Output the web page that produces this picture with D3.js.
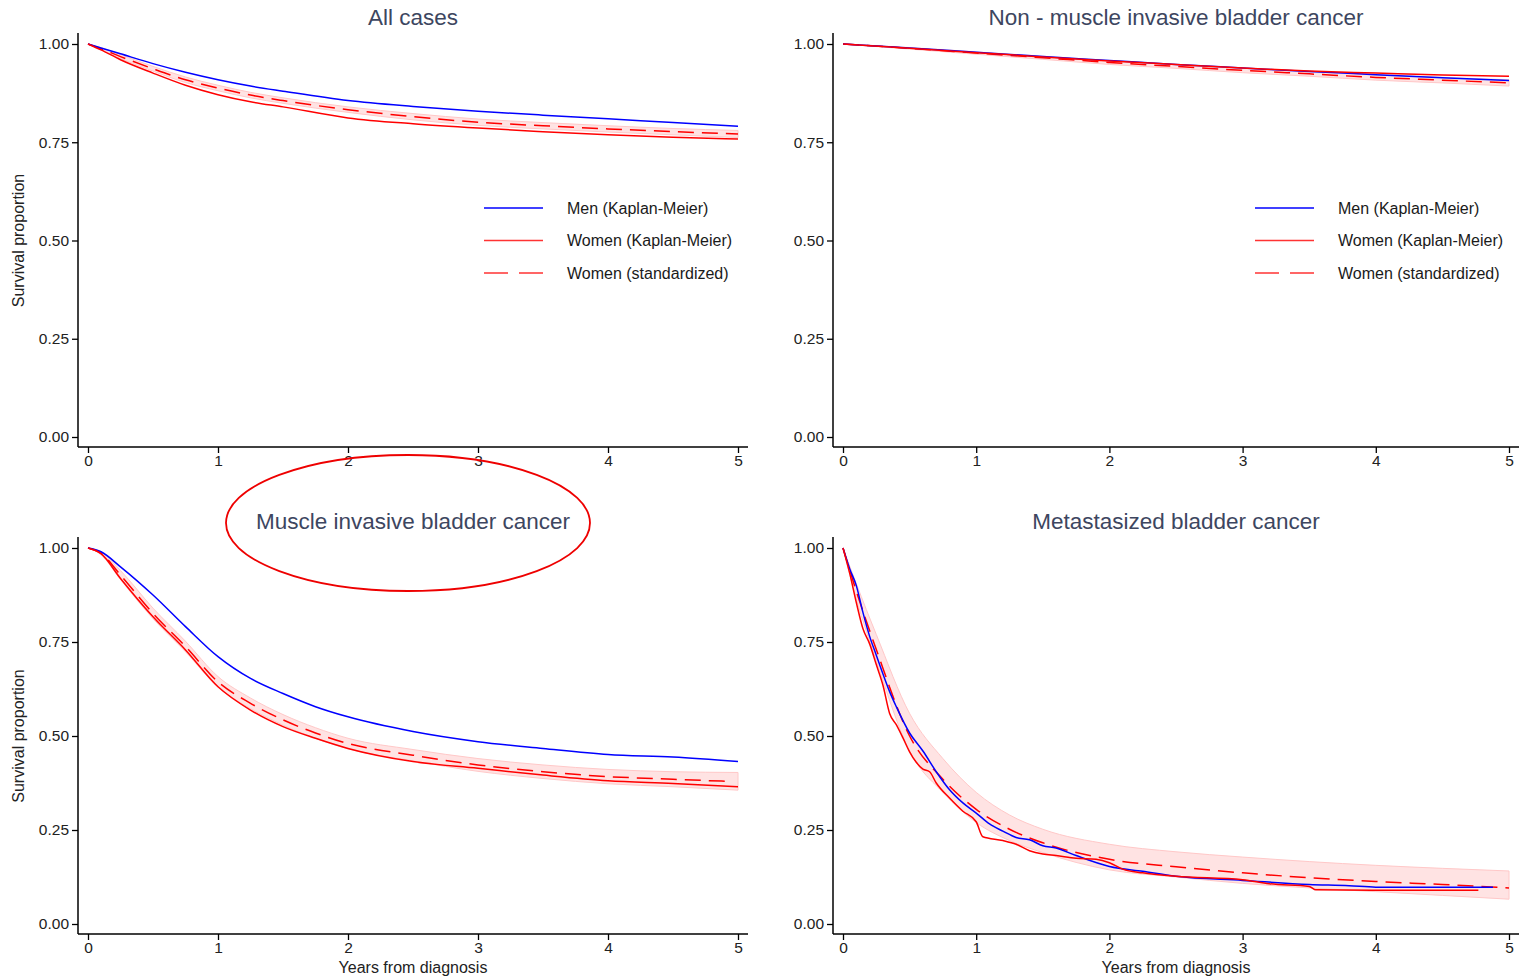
<!DOCTYPE html>
<html><head><meta charset="utf-8">
<script src="https://cdn.jsdelivr.net/npm/d3@7"></script>
<style>
html,body{margin:0;padding:0;background:#fff;}
svg text{font-family:"Liberation Sans",Arial,sans-serif;}
</style></head>
<body>
<svg id="chart" width="1521" height="980"></svg>
<script>
// ---------- DATA ----------
const xTicks = [0, 1, 2, 3, 4, 5];
const yTicks = [0, 0.25, 0.5, 0.75, 1];
const yTickLabels = ["0.00", "0.25", "0.50", "0.75", "1.00"];
const legendLabels = ["Men (Kaplan-Meier)", "Women (Kaplan-Meier)", "Women (standardized)"];
const panelTitles = ["All cases", "Non - muscle invasive bladder cancer", "Muscle invasive bladder cancer", "Metastasized bladder cancer"];

// All cases
const allTime     = [0, 0.1, 0.25, 0.5, 0.75, 1, 1.25, 1.5, 2, 2.5, 3, 3.5, 4, 4.5, 5];
const allMen      = [1, 0.990, 0.975, 0.950, 0.928, 0.909, 0.893, 0.880, 0.856, 0.841, 0.829, 0.819, 0.810, 0.800, 0.791];
const allWomenKM  = [1, 0.985, 0.960, 0.926, 0.895, 0.871, 0.853, 0.840, 0.812, 0.797, 0.786, 0.777, 0.769, 0.763, 0.758];
const allWomenStd = [1, 0.988, 0.968, 0.937, 0.909, 0.888, 0.870, 0.856, 0.833, 0.815, 0.801, 0.792, 0.784, 0.777, 0.771];
const allBandHi   = [1, 0.991, 0.973, 0.943, 0.916, 0.895, 0.877, 0.863, 0.840, 0.823, 0.809, 0.800, 0.792, 0.785, 0.780];
const allBandLo   = [1, 0.985, 0.963, 0.931, 0.902, 0.881, 0.863, 0.849, 0.826, 0.807, 0.793, 0.784, 0.776, 0.769, 0.762];

// Non - muscle invasive
const nmiTime     = [0, 0.5, 1, 1.5, 2, 2.5, 3, 3.5, 4, 4.5, 5];
const nmiMen      = [1, 0.990, 0.979, 0.968, 0.958, 0.948, 0.939, 0.930, 0.922, 0.914, 0.907];
const nmiWomenKM  = [1, 0.989, 0.978, 0.967, 0.957, 0.948, 0.939, 0.931, 0.926, 0.921, 0.918];
const nmiWomenStd = [1, 0.989, 0.977, 0.965, 0.953, 0.943, 0.933, 0.924, 0.915, 0.908, 0.901];
const nmiBandHi   = [1, 0.991, 0.980, 0.969, 0.958, 0.948, 0.939, 0.930, 0.922, 0.915, 0.909];
const nmiBandLo   = [1, 0.987, 0.974, 0.961, 0.948, 0.938, 0.927, 0.918, 0.908, 0.901, 0.893];

// Muscle invasive
const miTime      = [0, 0.1, 0.25, 0.5, 0.75, 1, 1.25, 1.5, 1.75, 2, 2.5, 3, 3.5, 4, 4.5, 5];
const miMen       = [1, 0.990, 0.950, 0.875, 0.791, 0.711, 0.653, 0.613, 0.578, 0.551, 0.512, 0.485, 0.467, 0.451, 0.444, 0.432];
const miWomenKM   = [1, 0.985, 0.919, 0.817, 0.729, 0.631, 0.569, 0.525, 0.494, 0.467, 0.432, 0.414, 0.396, 0.381, 0.374, 0.365];
const miStdTime   = [0, 0.1, 0.25, 0.5, 0.75, 1, 1.25, 1.5, 1.75, 2, 2.5, 3, 3.5, 4, 4.5, 4.95];
const miWomenStd  = [1, 0.986, 0.928, 0.826, 0.738, 0.644, 0.587, 0.543, 0.508, 0.480, 0.449, 0.423, 0.405, 0.392, 0.385, 0.379];
const miBandHi    = [1, 0.990, 0.940, 0.840, 0.752, 0.658, 0.601, 0.557, 0.522, 0.494, 0.464, 0.440, 0.423, 0.411, 0.405, 0.403];
const miBandLo    = [1, 0.982, 0.916, 0.812, 0.724, 0.630, 0.573, 0.529, 0.494, 0.466, 0.434, 0.406, 0.387, 0.373, 0.365, 0.356];

// Metastasized
const metMenTime  = [0, 0.05, 0.1, 0.15, 0.2, 0.25, 0.3, 0.35, 0.4, 0.5, 0.6, 0.7, 0.8, 0.9, 1.0, 1.1, 1.2, 1.3, 1.4, 1.5, 1.6, 1.75, 2, 2.25, 2.5, 3, 3.5, 3.8, 4, 4.5, 4.88];
const metMen      = [1, 0.945, 0.900, 0.828, 0.765, 0.715, 0.665, 0.618, 0.578, 0.508, 0.460, 0.405, 0.357, 0.322, 0.295, 0.266, 0.247, 0.230, 0.224, 0.208, 0.202, 0.182, 0.153, 0.140, 0.127, 0.116, 0.105, 0.102, 0.098, 0.098, 0.098];
const metWomTime  = [0, 0.05, 0.1, 0.15, 0.2, 0.25, 0.3, 0.35, 0.4, 0.45, 0.5, 0.55, 0.6, 0.65, 0.7, 0.8, 0.9, 1.0, 1.05, 1.2, 1.3, 1.4, 1.5, 1.6, 1.75, 1.9, 2.0, 2.1, 2.25, 2.5, 3.0, 3.2, 3.5, 3.55, 4.0, 4.5, 4.77];
const metWomenKM  = [1, 0.933, 0.855, 0.785, 0.745, 0.690, 0.635, 0.560, 0.530, 0.495, 0.458, 0.430, 0.412, 0.405, 0.375, 0.335, 0.300, 0.272, 0.232, 0.222, 0.212, 0.195, 0.186, 0.182, 0.175, 0.172, 0.163, 0.146, 0.136, 0.127, 0.118, 0.107, 0.100, 0.091, 0.090, 0.090, 0.090];
const metStdTime  = [0, 0.1, 0.25, 0.5, 0.75, 1, 1.25, 1.5, 2, 2.5, 3, 3.5, 4, 4.5, 5];
const metWomenStd = [1, 0.885, 0.730, 0.500, 0.385, 0.305, 0.252, 0.216, 0.172, 0.152, 0.136, 0.123, 0.113, 0.105, 0.096];
const metBandHi   = [1, 0.905, 0.770, 0.560, 0.440, 0.350, 0.290, 0.252, 0.212, 0.192, 0.178, 0.166, 0.156, 0.148, 0.141];
const metBandLo   = [1, 0.865, 0.700, 0.460, 0.350, 0.270, 0.222, 0.190, 0.144, 0.125, 0.108, 0.096, 0.086, 0.076, 0.066];

// ---------- BUILD ----------
const zip = (t, v) => t.map((d, i) => ({t: d, v: v[i]}));
const zipBand = (t, lo, hi) => t.map((d, i) => ({t: d, lo: lo[i], hi: hi[i]}));

const panels = [
  {title: panelTitles[0], x: [88, 738], y: [437, 44], legendX: 484, ylab: true, xlab: false,
   men: zip(allTime, allMen), wkm: zip(allTime, allWomenKM), wstd: zip(allTime, allWomenStd), band: zipBand(allTime, allBandLo, allBandHi)},
  {title: panelTitles[1], x: [843, 1509], y: [437, 44], legendX: 1255, ylab: false, xlab: false,
   men: zip(nmiTime, nmiMen), wkm: zip(nmiTime, nmiWomenKM), wstd: zip(nmiTime, nmiWomenStd), band: zipBand(nmiTime, nmiBandLo, nmiBandHi)},
  {title: panelTitles[2], x: [88, 738], y: [924, 548], legendX: null, ylab: true, xlab: true,
   men: zip(miTime, miMen), wkm: zip(miTime, miWomenKM), wstd: zip(miStdTime, miWomenStd), band: zipBand(miTime, miBandLo, miBandHi)},
  {title: panelTitles[3], x: [843, 1509], y: [924, 548], legendX: null, ylab: false, xlab: true,
   men: zip(metMenTime, metMen), wkm: zip(metWomTime, metWomenKM), wstd: zip(metStdTime, metWomenStd), band: zipBand(metStdTime, metBandLo, metBandHi)}
];

const svg = d3.select("#chart");
const BLUE = "#0000ff", RED = "#ff0000";
const FONT = "'Liberation Sans',Arial,sans-serif";

panels.forEach(p => {
  const xs = d3.scaleLinear().domain([0, 5]).range(p.x);
  const ys = d3.scaleLinear().domain([0, 1]).range(p.y);
  const g = svg.append("g");
  const axX = p.x[0] - 10, axY = p.y[0] + 10;

  // confidence band
  g.append("path").datum(p.band)
    .attr("d", d3.area().x(d => xs(d.t)).y0(d => ys(d.lo)).y1(d => ys(d.hi)).curve(d3.curveMonotoneX))
    .attr("fill", "#ffdede").attr("fill-opacity", 0.85)
    .attr("stroke", "#ffc8c8").attr("stroke-width", 1);

  const line = d3.line().x(d => xs(d.t)).y(d => ys(d.v)).curve(d3.curveMonotoneX);
  g.append("path").datum(p.wstd).attr("d", line).attr("fill", "none")
    .attr("stroke", RED).attr("stroke-width", 1.5).attr("stroke-dasharray", "16,8");
  g.append("path").datum(p.men).attr("d", line).attr("fill", "none")
    .attr("stroke", BLUE).attr("stroke-width", 1.5);
  g.append("path").datum(p.wkm).attr("d", line).attr("fill", "none")
    .attr("stroke", RED).attr("stroke-width", 1.5);

  // axes
  const ya = g.append("g").attr("transform", `translate(${axX},0)`)
    .call(d3.axisLeft(ys).tickValues(yTicks).tickFormat((d, i) => yTickLabels[i]).tickSize(6).tickPadding(3));
  ya.select(".domain").remove();
  const xa = g.append("g").attr("transform", `translate(0,${axY})`)
    .call(d3.axisBottom(xs).tickValues(xTicks).tickFormat(d3.format("d")).tickSize(6).tickPadding(2));
  xa.select(".domain").remove();
  [ya, xa].forEach(a => {
    a.selectAll("line").attr("stroke", "#000").attr("stroke-width", 1.3);
    a.selectAll("text").attr("font-size", 15.5).attr("fill", "#222").attr("font-family", FONT);
  });
  g.append("line").attr("x1", axX).attr("x2", axX).attr("y1", p.y[1] - 11).attr("y2", axY)
    .attr("stroke", "#000").attr("stroke-width", 1.5);
  g.append("line").attr("x1", axX).attr("x2", p.x[1] + 10).attr("y1", axY).attr("y2", axY)
    .attr("stroke", "#000").attr("stroke-width", 1.5);

  // title
  g.append("text").attr("x", (p.x[0] + p.x[1]) / 2).attr("y", p.y[1] - 19)
    .attr("text-anchor", "middle").attr("font-size", 22.5).attr("fill", "#3d4660").text(p.title);

  if (p.ylab) {
    const cy = (p.y[0] + p.y[1]) / 2;
    g.append("text").attr("transform", `translate(24,${cy}) rotate(-90)`)
      .attr("text-anchor", "middle").attr("font-size", 16).attr("fill", "#222").text("Survival proportion");
  }
  if (p.xlab) {
    g.append("text").attr("x", (p.x[0] + p.x[1]) / 2).attr("y", axY + 39)
      .attr("text-anchor", "middle").attr("font-size", 16).attr("fill", "#222").text("Years from diagnosis");
  }
  if (p.legendX !== null) {
    const lx = p.legendX;
    const styles = [{c: BLUE, d: null}, {c: "#ff3333", d: null}, {c: "#ff3333", d: "24,11"}];
    legendLabels.forEach((lab, i) => {
      const ly = 208 + i * 32.5;
      g.append("line").attr("x1", lx).attr("x2", lx + 59).attr("y1", ly).attr("y2", ly)
        .attr("stroke", styles[i].c).attr("stroke-width", 1.5).attr("stroke-dasharray", styles[i].d);
      g.append("text").attr("x", lx + 83).attr("y", ly + 5.5).attr("font-size", 16)
        .attr("fill", "#1a1a1a").text(lab);
    });
  }
});

// annotation ellipse around the muscle invasive title
svg.append("ellipse").attr("cx", 408).attr("cy", 523).attr("rx", 182).attr("ry", 68)
  .attr("fill", "none").attr("stroke", "#ee0000").attr("stroke-width", 1.8);
</script>
</body></html>
